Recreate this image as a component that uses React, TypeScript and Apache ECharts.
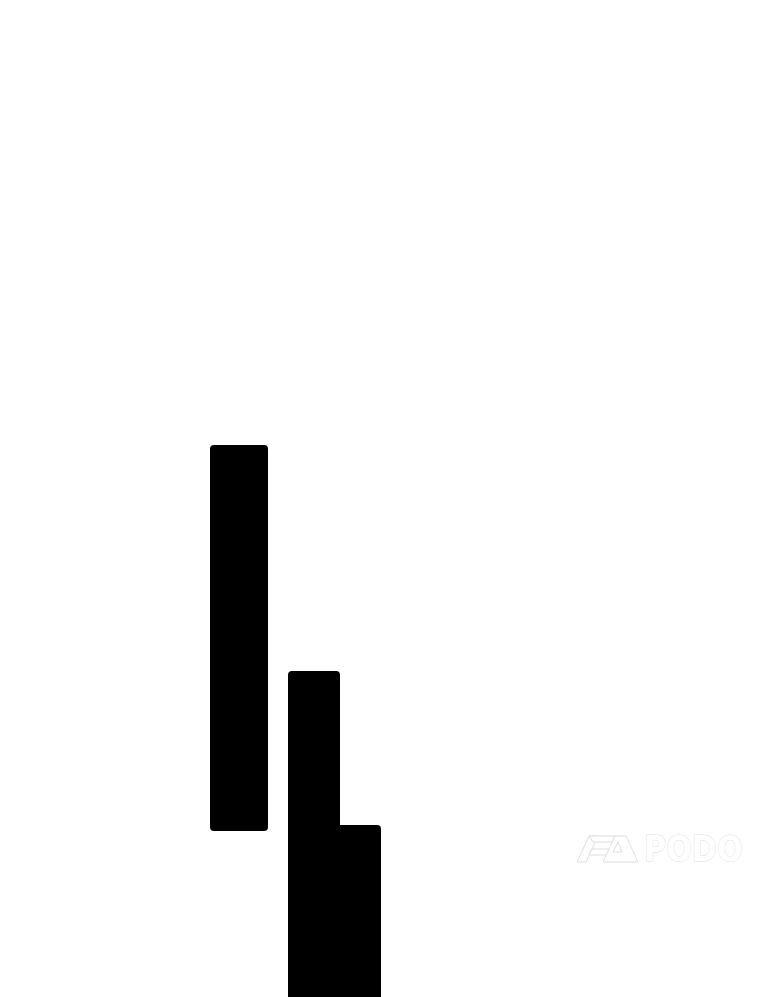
import React, { useEffect, useRef } from "react";
import * as echarts from "echarts";

// floating blocks (x in px-like units, y counted from the bottom)
const blockNames = ["A", "B", "C"];
const xStarts = [210, 288, 340];
const xEnds = [268, 340, 381];
const yLows = [166, -20, -20];
const yHighs = [552, 326, 172];
const blockRadius = [
  [4, 4, 4, 4],
  [4, 4, 0, 0],
  [0, 4, 0, 0],
];

const WIDTH = 760;
const HEIGHT = 997;

const App: React.FC = () => {
  const chartRef = useRef<HTMLDivElement>(null);

  useEffect(() => {
    if (!chartRef.current) return;

    const chart = echarts.init(chartRef.current, undefined, { renderer: "svg" });

    const data = blockNames.map((name, i) => ({
      name,
      value: [xStarts[i], xEnds[i], yLows[i], yHighs[i]],
    }));

    const logoStroke = "#dedede";

    const option: echarts.EChartsOption = {
      animation: false,
      backgroundColor: "#ffffff",
      grid: { left: 0, right: 0, top: 0, bottom: 0 },
      xAxis: { type: "value", min: 0, max: WIDTH, show: false },
      yAxis: { type: "value", min: 0, max: HEIGHT, show: false },
      series: [
        {
          type: "custom",
          clip: true,
          data,
          renderItem: (params: any, api: any) => {
            const idx = params.dataIndex;
            const p0 = api.coord([api.value(0), api.value(3)]);
            const p1 = api.coord([api.value(1), api.value(2)]);
            return {
              type: "rect",
              shape: {
                x: p0[0],
                y: p0[1],
                width: p1[0] - p0[0],
                height: p1[1] - p0[1],
                r: blockRadius[idx],
              },
              style: { fill: "#000000" },
            };
          },
        },
      ],
      graphic: [
        // watermark icon
        {
          type: "polygon",
          shape: { points: [[577, 862], [589, 836], [598, 836], [586, 862]] },
          style: { fill: "#ffffff", stroke: logoStroke, lineWidth: 1 },
        },
        {
          type: "polygon",
          shape: { points: [[589, 836], [617, 836], [614, 842], [593, 842]] },
          style: { fill: "#ffffff", stroke: logoStroke, lineWidth: 1 },
        },
        {
          type: "polygon",
          shape: { points: [[592, 849], [612, 849], [612, 855], [589, 855]] },
          style: { fill: "#ffffff", stroke: logoStroke, lineWidth: 1 },
        },
        {
          type: "polygon",
          shape: { points: [[603, 862], [615, 836], [626, 836], [638, 862]] },
          style: { fill: "#ffffff", stroke: logoStroke, lineWidth: 1 },
        },
        {
          type: "polygon",
          shape: { points: [[613, 852], [618, 842], [622, 852]] },
          style: { fill: "#ffffff", stroke: logoStroke, lineWidth: 1 },
        },
        {
          type: "text",
          x: 644,
          y: 849,
          scaleX: 0.84,
          style: {
            text: "PODO",
            fill: "#ffffff",
            stroke: logoStroke,
            lineWidth: 1,
            font: "bold 36px 'DejaVu Sans'",
            verticalAlign: "middle",
            align: "left",
          },
        },
      ],
    };

    chart.setOption(option);

    return () => {
      chart.dispose();
    };
  }, []);

  return (
    <div
      ref={chartRef}
      style={{ position: "fixed", left: 0, top: 0, width: WIDTH, height: HEIGHT }}
    />
  );
};

export default App;
